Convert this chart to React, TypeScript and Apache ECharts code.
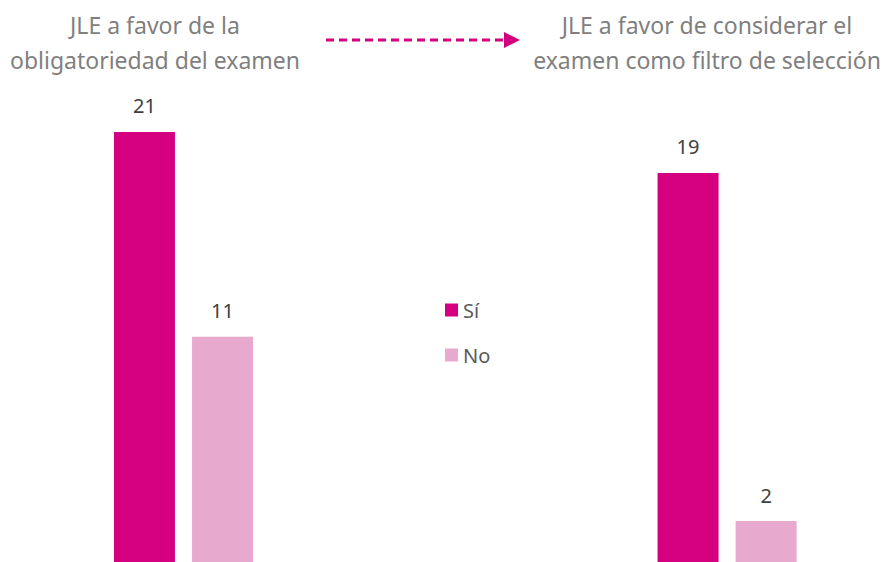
import React, { useEffect, useRef } from "react";
import * as echarts from "echarts";

const categories = ["JLE a favor de la obligatoriedad del examen", "", "JLE a favor de considerar el examen como filtro de selección"];
const siValues = [21, null, 19];
const noValues = [11, null, 2];
const seriesNames = ["Sí", "No"];
const titleLeft = ["JLE a favor de la", "obligatoriedad del examen"];
const titleRight = ["JLE a favor de considerar el", "examen como filtro de selección"];

const FONT = "'Noto Sans', sans-serif";

export default function App() {
  const ref = useRef<HTMLDivElement>(null);
  useEffect(() => {
    const chart = echarts.init(ref.current!, null, { renderer: "svg" });
    const label = {
      show: true,
      position: "top" as const,
      distance: 16,
      color: "#404040",
      fontSize: 20,
      fontFamily: FONT,
    };
    const titleStyle = {
      fill: "#7F7F7F",
      fontSize: 23,
      fontFamily: FONT,
      lineHeight: 35,
      textAlign: "center",
    };
    chart.setOption({
      animation: false,
      backgroundColor: "#ffffff",
      grid: { left: 47.6, right: 20, top: 50, bottom: 0, containLabel: false },
      xAxis: {
        type: "category",
        data: categories,
        axisLine: { show: false },
        axisTick: { show: false },
        axisLabel: { show: false },
      },
      yAxis: {
        type: "value",
        min: 0,
        max: 25,
        show: false,
        splitLine: { show: false },
      },
      legend: {
        orient: "vertical",
        left: 440,
        top: 295,
        itemWidth: 13,
        itemHeight: 13,
        itemGap: 25,
        icon: "rect",
        textStyle: { fontSize: 20, color: "#595959", fontFamily: FONT },
        data: seriesNames,
      },
      series: [
        {
          name: seriesNames[0],
          type: "bar",
          data: siValues,
          barWidth: 61,
          barGap: "28%",
          itemStyle: { color: "#D5007F" },
          label,
        },
        {
          name: seriesNames[1],
          type: "bar",
          data: noValues,
          barWidth: 61,
          itemStyle: { color: "#E8A9CE" },
          label,
        },
      ],
      graphic: [
        {
          type: "text",
          x: 155,
          y: 7,
          style: { ...titleStyle, text: titleLeft.join("\n") },
        },
        {
          type: "text",
          x: 707,
          y: 7,
          style: { ...titleStyle, text: titleRight.join("\n") },
        },
        {
          type: "line",
          shape: { x1: 326, y1: 40, x2: 506, y2: 40 },
          style: { stroke: "#D5007F", lineWidth: 3, lineDash: [8, 5] },
        },
        {
          type: "polygon",
          shape: { points: [[504, 32], [520, 40], [504, 48]] },
          style: { fill: "#D5007F" },
        },
      ],
    });
    return () => chart.dispose();
  }, []);
  return (
    <div
      ref={ref}
      style={{ position: "fixed", left: 0, top: 0, width: 883, height: 562 }}
    />
  );
}
